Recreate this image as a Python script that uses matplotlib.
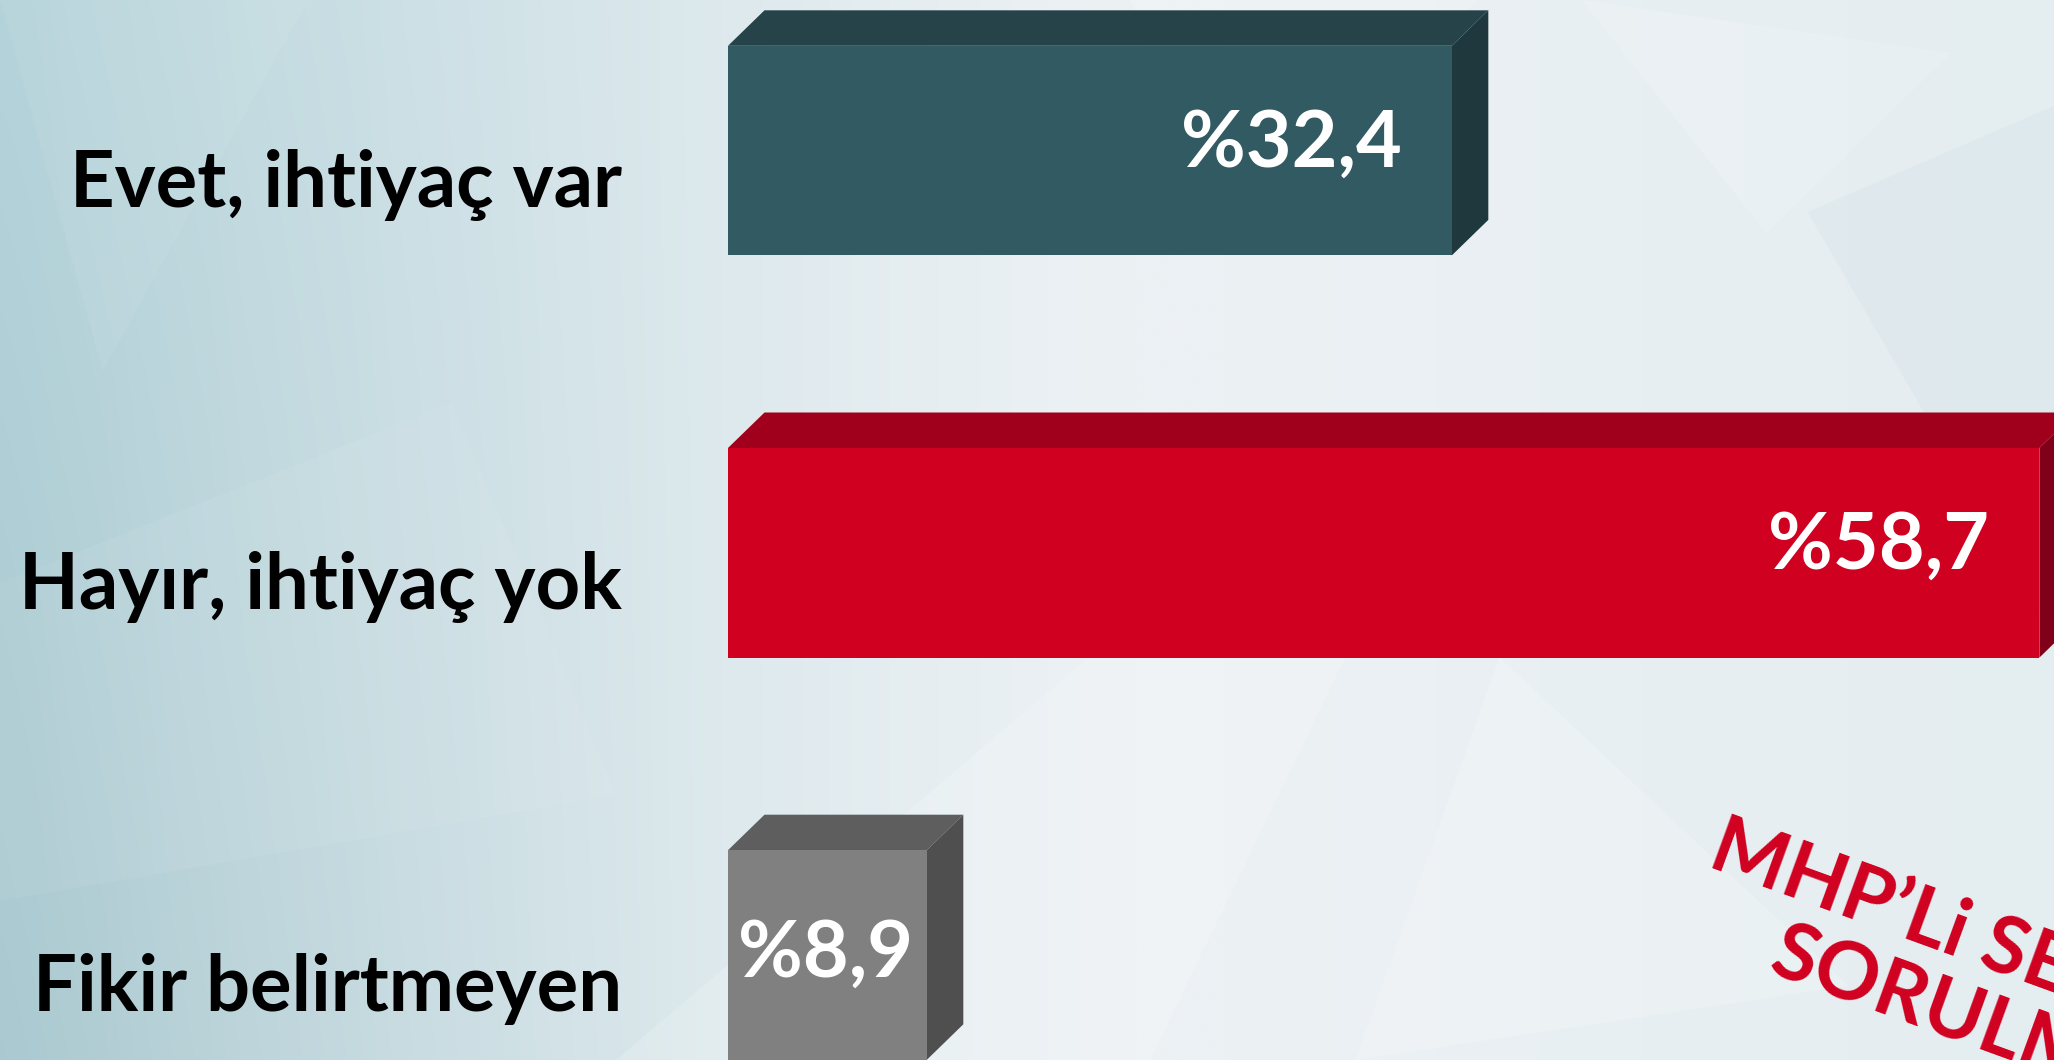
import numpy as np
import matplotlib
matplotlib.use("Agg")
import matplotlib.pyplot as plt
from matplotlib.patches import Polygon

# ---- data ----
categories = ["Evet, ihtiyaç var", "Hayır, ihtiyaç yok", "Fikir belirtmeyen"]
values = [32.4, 58.7, 8.9]
value_labels = ["%32,4", "%58,7", "%8,9"]
front_colors = ["#325A62", "#D00020", "#808080"]
top_colors = ["#264349", "#A0001C", "#5E5E5E"]
side_colors = ["#1F383D", "#7F0018", "#4F4F4F"]
watermark_lines = ["MHP\u2019Li SEÇMENLERE", "SORULMUŞTUR"]

FONT = "Lato"
W, H = 2054, 1060
fig = plt.figure(figsize=(W / 100, H / 100), dpi=100)

# ---- background ----
bg = fig.add_axes([0, 0, 1, 1])
bg.set_axis_off()
xs = np.linspace(0, 1, 400)
ys = np.linspace(0, 1, 220)
X, Y = np.meshgrid(xs, ys)  # Y=0 top
left_col = np.array([180, 211, 218]) / 255
mid_col = np.array([236, 241, 244]) / 255
right_col = np.array([228, 237, 240]) / 255
t = np.clip(X / 0.55, 0, 1)[..., None]
img = left_col * (1 - t) ** 1.3 + mid_col * (1 - (1 - t) ** 1.3)
t2 = np.clip((X - 0.6) / 0.4, 0, 1)[..., None]
img = img * (1 - t2) + right_col * t2
shade = (np.clip(1 - X / 0.35, 0, 1) * Y * 0.04)[..., None]
img = np.clip(img - shade, 0, 1)
bg.imshow(img, extent=[0, 1, 1, 0], aspect="auto", interpolation="bicubic")
bg.set_xlim(0, 1)
bg.set_ylim(1, 0)
facets = [
    ([(0.53, 0.62), (0.68, 0.52), (0.56, 1.0), (0.30, 1.0)], "#ffffff", 0.18),
    ([(0.73, 0.62), (0.90, 0.93), (0.66, 1.0)], "#ffffff", 0.20),
    ([(0.77, 0.0), (0.95, 0.05), (0.86, 0.22)], "#ffffff", 0.15),
    ([(0.0, 0.55), (0.22, 0.38), (0.30, 0.75), (0.0, 0.85)], "#ffffff", 0.06),
    ([(0.55, 0.0), (0.72, 0.0), (0.60, 0.22)], "#ffffff", 0.15),
    ([(0.88, 0.20), (1.0, 0.10), (1.0, 0.60)], "#c8dde2", 0.20),
    ([(0.0, 0.0), (0.15, 0.0), (0.05, 0.35)], "#ffffff", 0.06),
]
for pts, c, a in facets:
    bg.add_patch(Polygon(pts, closed=True, facecolor=c, edgecolor="none", alpha=a))

# ---- bar axes (data coordinates) ----
x0_px = 728.0
px_per_unit = 22.34
row_px = 402.2
first_center_px = 150.6
ax = fig.add_axes([x0_px / W, 0, 1 - x0_px / W, 1])
ax.set_axis_off()
ax.set_xlim(0, (W - x0_px) / px_per_unit)
ax.set_ylim((H - first_center_px) / row_px, -first_center_px / row_px)

bar_h = 209.6 / row_px
dx = 36.5 / px_per_unit
dy = 35.5 / row_px
ypos = np.arange(len(categories))

bars = ax.barh(ypos, values, height=bar_h, color=front_colors, zorder=3)
for i, b in enumerate(bars):
    y_top = b.get_y()
    y_bot = y_top + b.get_height()
    x_r = b.get_width()
    ax.add_patch(Polygon([(0, y_top), (dx, y_top - dy), (x_r + dx, y_top - dy), (x_r, y_top)],
                         closed=True, facecolor=top_colors[i], edgecolor="none", zorder=2))
    ax.add_patch(Polygon([(x_r, y_top), (x_r + dx, y_top - dy), (x_r + dx, y_bot - dy), (x_r, y_bot)],
                         closed=True, facecolor=side_colors[i], edgecolor="none", zorder=2))

# value labels
for i, v in enumerate(values):
    if v > 15:
        ax.text(v - 2.25, i - 0.015, value_labels[i], ha="right", va="center",
                color="white", fontsize=57, fontweight="bold", family=FONT, zorder=5)
    else:
        ax.text(v / 2 - 0.1, i, value_labels[i], ha="center", va="center",
                color="white", fontsize=57, fontweight="bold", family=FONT, zorder=5)

# category labels
for i, c in enumerate(categories):
    ax.text(-106 / px_per_unit, i + 0.085, c, ha="right", va="center",
            color="black", fontsize=56, fontweight="bold", family=FONT,
            zorder=5, clip_on=False)

# watermark
fig.text(1706 / W, 1 - 866 / H, watermark_lines[0], rotation=-20, rotation_mode="anchor",
         ha="left", va="baseline", color="#D00020", fontsize=58, fontweight="bold", family=FONT)
fig.text(1766 / W, 1 - 972 / H, watermark_lines[1], rotation=-20, rotation_mode="anchor",
         ha="left", va="baseline", color="#D00020", fontsize=58, fontweight="bold", family=FONT)

fig.savefig("out.png", dpi=100)
